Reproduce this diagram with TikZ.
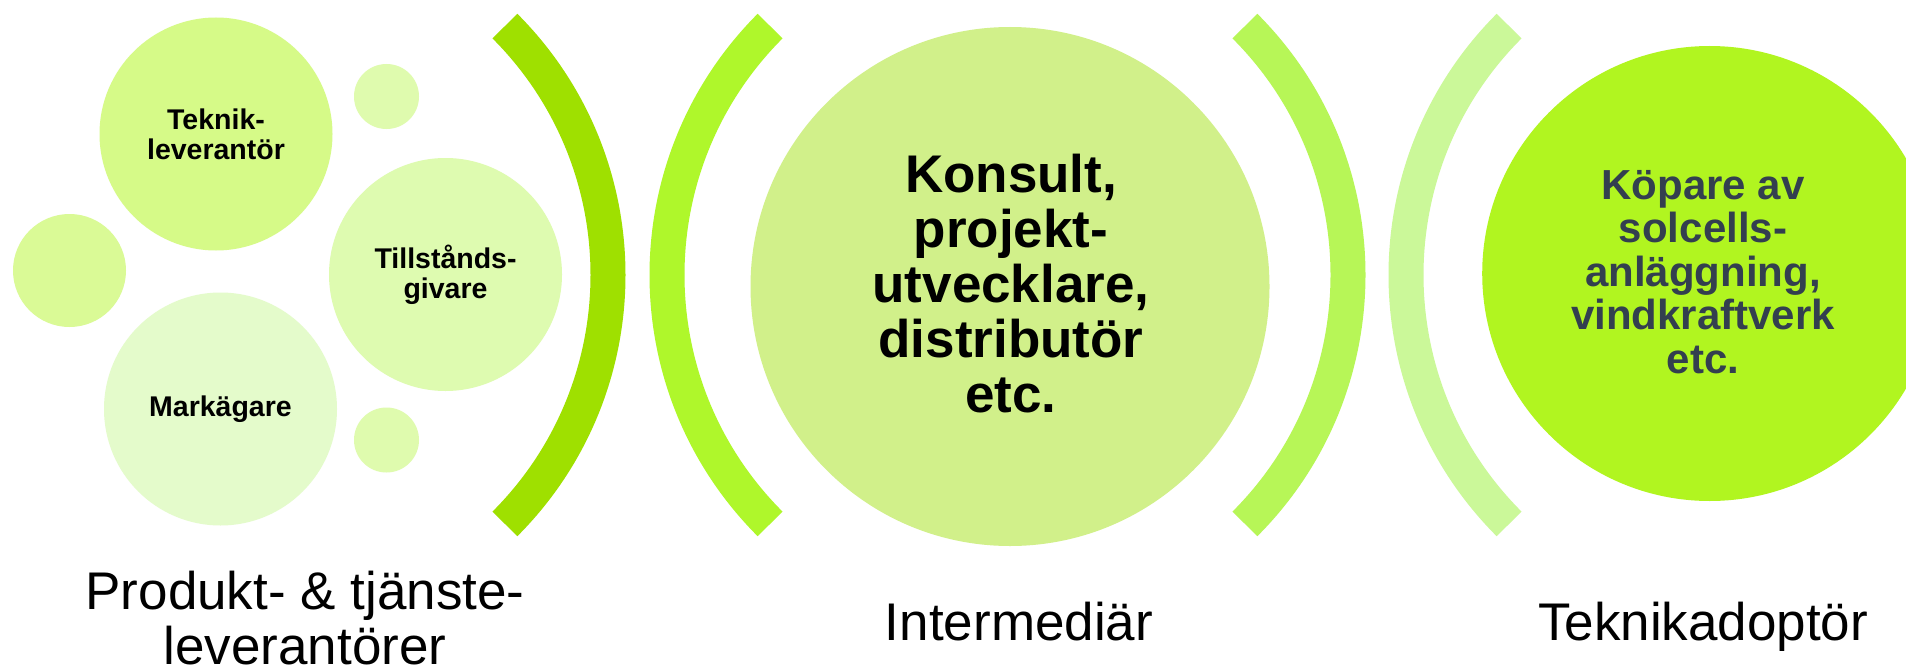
\documentclass[tikz,border=0pt]{standalone}
\usepackage{fontspec}
\setmainfont{Liberation Sans}
\definecolor{ringA}{HTML}{9FE000}
\definecolor{ringB}{HTML}{AFF72B}
\definecolor{ringC}{HTML}{B7F657}
\definecolor{ringD}{HTML}{CBF899}
\definecolor{teknikfill}{HTML}{D6FA88}
\definecolor{smallfill}{HTML}{DAFA96}
\definecolor{dotfill}{HTML}{DFFBAE}
\definecolor{tillfill}{HTML}{DEFBB0}
\definecolor{markfill}{HTML}{E4FBCB}
\definecolor{midfill}{HTML}{D1F08A}
\definecolor{adoptfill}{HTML}{B1F520}
\definecolor{adopttext}{HTML}{333F4F}
\begin{document}
\begin{tikzpicture}[x=1pt,y=-1pt,
  bubble/.style={circle,inner sep=0pt,minimum size=#1,align=center,
    font=\bfseries\fontsize{28.5}{30}\selectfont},
  band/.style={line width=35pt},
  caption/.style={align=center,font=\fontsize{53}{55}\selectfont}]
\useasboundingbox (0,0) rectangle (1906,669);
\fill[white] (0,0) rectangle (1906,669);
% rings
\draw[band,ringA] (256,275) ++(45:352) arc[start angle=45,end angle=-45,radius=352];
\draw[band,ringB] (1019,275) ++(135:352) arc[start angle=135,end angle=225,radius=352];
\draw[band,ringC] (996,275) ++(45:352) arc[start angle=45,end angle=-45,radius=352];
\draw[band,ringD] (1758,275) ++(135:352) arc[start angle=135,end angle=225,radius=352];
% left group
\node[bubble=233pt,fill=teknikfill] (tekniklev) at (216,134) {Teknik-\\leverantör};
\node[bubble=113pt,fill=smallfill] (dotleft) at (69.5,270.5) {};
\node[bubble=65pt,fill=dotfill] (dottop) at (386.5,96.5) {};
\node[bubble=233pt,fill=tillfill] (tillstand) at (445.5,274.5) {Tillstånds-\\givare};
\node[bubble=233pt,fill=markfill] (markagare) at (220.5,409) {Markägare};
\node[bubble=65pt,fill=dotfill] (dotbottom) at (386.5,440) {};
% middle and right
\node[circle,inner sep=0pt,minimum size=519pt,fill=midfill] (midcirc) at (1010,286.5) {};
\node[align=center,font=\bfseries\fontsize{53}{55}\selectfont] (midtext) at (1011,284)
  {Konsult,\\projekt-\\utvecklare,\\distributör\\etc.};
\node[circle,inner sep=0pt,minimum size=455pt,fill=adoptfill] (adoptcirc) at (1709.7,273.5) {};
\node[align=center,text=adopttext,font=\bfseries\fontsize{42}{43.6}\selectfont] (adopttxt) at (1703,272)
  {Köpare av\\solcells-\\anläggning,\\vindkraftverk\\etc.};
% captions
\node[caption,inner sep=0pt] (capleft) at (305,618.5) {Produkt- \& tjänste-\\leverantörer};
\node[caption,anchor=base] (capmid) at (1019,640) {Intermediär};
\node[caption,anchor=base] (capright) at (1703,640) {Teknikadoptör};
\end{tikzpicture}
\end{document}
